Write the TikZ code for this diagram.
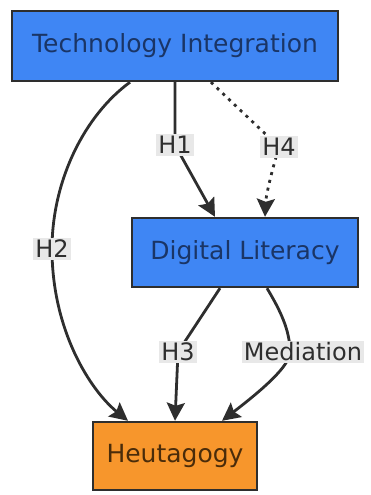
\documentclass[tikz,border=0pt]{standalone}
\usepackage{fontspec}
\setmainfont{DejaVu Sans}
\usetikzlibrary{arrows.meta,positioning,calc}
\definecolor{skyblue}{HTML}{3F86F4}
\definecolor{navyink}{HTML}{1A3566}
\definecolor{amber}{HTML}{F7962C}
\definecolor{brownink}{HTML}{4A2C0A}
\definecolor{edgegrey}{HTML}{2E2E2E}
\definecolor{lblgrey}{HTML}{E8E8E8}

\begin{document}
\begin{tikzpicture}[x=1pt,y=-1pt,>={Stealth[length=18pt,width=18pt,inset=3pt]},
 box/.style={draw=edgegrey,line width=2.4pt,minimum height=70pt,font=\fontsize{25}{28}\selectfont},
 edge/.style={edgegrey,line width=2.8pt,->},
 lbl/.style={fill=lblgrey,text=edgegrey,inner sep=2pt,font=\fontsize{24}{27}\selectfont}]
 \useasboundingbox (0,0) rectangle (370,495);
 \node[box,fill=skyblue,text=navyink,minimum width=326pt] (ti) at (175,46) {Technology Integration};
 \node[box,fill=skyblue,text=navyink,minimum width=226pt,minimum height=69pt] (dl) at (245,252.5) {Digital Literacy};
 \node[box,fill=amber,text=brownink,minimum width=164pt,minimum height=68pt] (heu) at (175,456) {Heutagogy};
 % bend points under the labels
 \coordinate (p1) at (175,145);
 \coordinate (p4) at (279,147);
 \coordinate (p2) at (52,249);
 \coordinate (p3) at (178,352);
 \coordinate (pm) at (290,352);
 \draw[edge] ([xshift=-45pt]ti.south) .. controls (85,115) and (52,180) .. (p2)
  .. controls (52,330) and (90,390) .. ([xshift=-47pt]heu.north);
 \draw[edge] (ti.south) -- (175,125) .. controls (175,135) and (175,140) .. (p1) -- ([xshift=-30pt]dl.north);
 \draw[edge,dash pattern=on 3pt off 5pt] ([xshift=36pt]ti.south) -- (p4)
  .. controls (272,170) and (266,195) .. ([xshift=20pt]dl.north);
 \draw[edge] ([xshift=-25pt]dl.south) -- (p3) -- (heu.north);
 \draw[edge] ([xshift=22pt]dl.south) .. controls (280,310) and (290,330) .. (pm)
  .. controls (290,366) and (262,390) .. ([xshift=47pt]heu.north);
 \node[lbl] (h1) at (p1) {H1};
 \node[lbl] (h4) at (p4) {H4};
 \node[lbl] (h2) at (p2) {H2};
 \node[lbl] (h3) at (p3) {H3};
 \node[lbl] (med) at (303,352) {Mediation};
\end{tikzpicture}
\end{document}
